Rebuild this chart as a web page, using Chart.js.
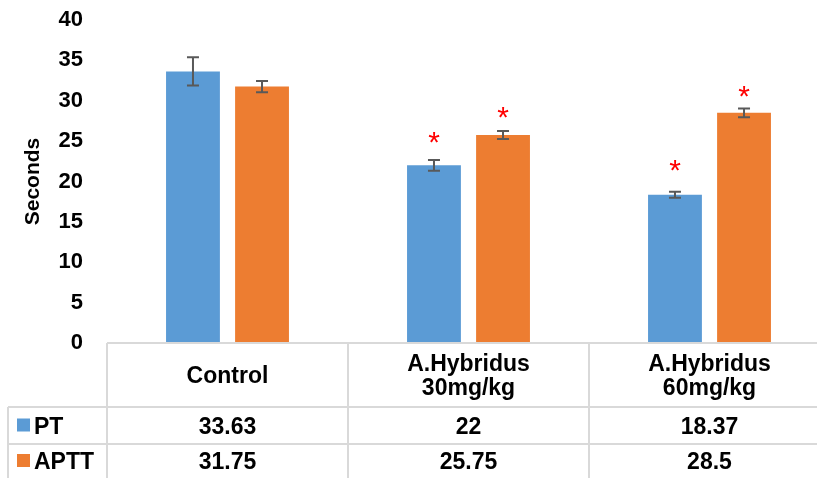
<!DOCTYPE html>
<html>
<head>
<meta charset="utf-8">
<script src="https://cdn.jsdelivr.net/npm/chart.js@4"></script>
<style>
  html, body { margin: 0; padding: 0; background: #fff; overflow: hidden; }
  #wrap { width: 817px; height: 478px; overflow: hidden; }
</style>
</head>
<body>
<div id="wrap"><canvas id="grafico" width="830" height="478"></canvas></div>
<script>
// dados
const categorias = [['Control'], ['A.Hybridus', '30mg/kg'], ['A.Hybridus', '60mg/kg']];
const series = ['PT', 'APTT'];
const valoresPT = [33.63, 22, 18.37];
const valoresAPTT = [31.75, 25.75, 28.5];
const tabelaPT = ['33.63', '22', '18.37'];
const tabelaAPTT = ['31.75', '25.75', '28.5'];
const erroPT = [1.75, 0.67, 0.37];
const erroAPTT = [0.7, 0.5, 0.55];
// posição dos asteriscos (em segundos), null = sem asterisco
const asteriscoPT = [null, 25.4, 22.0];
const asteriscoAPTT = [null, 28.6, 31.1];
const ticksY = [0, 5, 10, 15, 20, 25, 30, 35, 40];

const cores = ['#5B9BD5', '#ED7D31'];
const fonte = '"Liberation Sans", Arial, sans-serif';

// barras de erro + asteriscos
const pluginErros = {
    id: 'erros',
    afterDatasetsDraw(chart) {
        const ctx = chart.ctx;
        const y = chart.scales.y;
        const erros = [erroPT, erroAPTT];
        const estrelas = [asteriscoPT, asteriscoAPTT];
        ctx.save();
        chart.data.datasets.forEach((ds, d) => {
            const meta = chart.getDatasetMeta(d);
            meta.data.forEach((bar, i) => {
                const v = ds.data[i];
                const e = erros[d][i];
                const yt = y.getPixelForValue(v + e);
                const yb = y.getPixelForValue(v - e);
                ctx.strokeStyle = '#595959';
                ctx.lineWidth = 2;
                ctx.beginPath();
                ctx.moveTo(bar.x, yt);
                ctx.lineTo(bar.x, yb);
                ctx.moveTo(bar.x - 6, yt);
                ctx.lineTo(bar.x + 6, yt);
                ctx.moveTo(bar.x - 6, yb);
                ctx.lineTo(bar.x + 6, yb);
                ctx.stroke();

                const s = estrelas[d][i];
                if (s !== null) {
                    ctx.font = '30px ' + fonte;
                    ctx.fillStyle = '#FF0000';
                    ctx.textAlign = 'center';
                    ctx.textBaseline = 'alphabetic';
                    const m = ctx.measureText('*');
                    const off = (m.actualBoundingBoxAscent - m.actualBoundingBoxDescent) / 2;
                    ctx.fillText('*', bar.x, y.getPixelForValue(s) + off);
                }
            });
        });
        ctx.restore();
    }
};

// tabela de dados abaixo do gráfico
const pluginTabela = {
    id: 'tabela',
    afterDraw(chart) {
        const ctx = chart.ctx;
        const x = chart.scales.x;
        const area = chart.chartArea;
        const meia = (x.getPixelForValue(1) - x.getPixelForValue(0)) / 2;
        const topo = area.bottom;
        const linha1 = topo + 64;
        const linha2 = linha1 + 37;
        const fim = chart.height;
        const esquerda = 8;
        const direita = chart.width;

        ctx.save();
        ctx.strokeStyle = '#D9D9D9';
        ctx.lineWidth = 2;
        ctx.beginPath();
        ctx.moveTo(area.left, topo); ctx.lineTo(direita, topo);
        ctx.moveTo(esquerda, linha1); ctx.lineTo(direita, linha1);
        ctx.moveTo(esquerda, linha2); ctx.lineTo(direita, linha2);
        ctx.moveTo(esquerda, linha1); ctx.lineTo(esquerda, fim);
        categorias.forEach((c, i) => {
            const xb = x.getPixelForValue(i) - meia;
            ctx.moveTo(xb, topo); ctx.lineTo(xb, fim);
        });
        ctx.stroke();

        const tam = 23;
        const cap = tam * 0.716;
        ctx.font = 'bold ' + tam + 'px ' + fonte;
        ctx.fillStyle = '#000';
        ctx.textAlign = 'center';
        ctx.textBaseline = 'alphabetic';

        // cabeçalho
        const meioCab = (topo + linha1) / 2;
        categorias.forEach((linhas, i) => {
            const cx = x.getPixelForValue(i);
            const lh = 24;
            const base0 = meioCab + cap / 2 - (linhas.length - 1) * lh / 2;
            linhas.forEach((t, k) => ctx.fillText(t, cx, base0 + k * lh));
        });

        // linhas das séries
        const linhasY = [(linha1 + linha2) / 2, linha2 + 17];
        const valores = [tabelaPT, tabelaAPTT];
        series.forEach((nome, s) => {
            const yy = linhasY[s];
            valores[s].forEach((t, i) => {
                ctx.textAlign = 'center';
                ctx.fillText(t, x.getPixelForValue(i), yy + cap / 2);
            });
            ctx.fillStyle = cores[s];
            ctx.fillRect(17, yy - 7, 13, 13);
            ctx.fillStyle = '#000';
            ctx.textAlign = 'left';
            ctx.fillText(nome, 34, yy + cap / 2);
        });
        ctx.restore();
    }
};

const ctx = document.getElementById('grafico').getContext('2d');

const grafico = new Chart(ctx, {
    type: 'bar',
    data: {
        labels: categorias,
        datasets: [
            { label: series[0], data: valoresPT, backgroundColor: cores[0] },
            { label: series[1], data: valoresAPTT, backgroundColor: cores[1] }
        ]
    },
    options: {
        responsive: false,
        animation: false,
        categoryPercentage: 0.573,
        barPercentage: 0.78,
        layout: { padding: { top: 20, bottom: 135, left: 0, right: 0 } },
        plugins: {
            legend: { display: false },
            tooltip: { enabled: false }
        },
        scales: {
            x: { display: false },
            y: {
                min: 0,
                max: 40,
                afterBuildTicks: s => { s.ticks = ticksY.map(v => ({ value: v })); },
                afterFit: s => { s.width = 107; s.paddingTop = 0; s.paddingBottom = 0; },
                grid: { display: false, drawTicks: false },
                border: { display: false },
                ticks: {
                    color: '#000',
                    padding: 24,
                    font: { family: fonte, size: 22, weight: 'bold' }
                },
                title: {
                    display: true,
                    text: 'Seconds',
                    color: '#000',
                    padding: { top: 21, bottom: 0 },
                    font: { family: fonte, size: 21, weight: 'bold' }
                }
            }
        }
    },
    plugins: [pluginErros, pluginTabela]
});
</script>
</body>
</html>
